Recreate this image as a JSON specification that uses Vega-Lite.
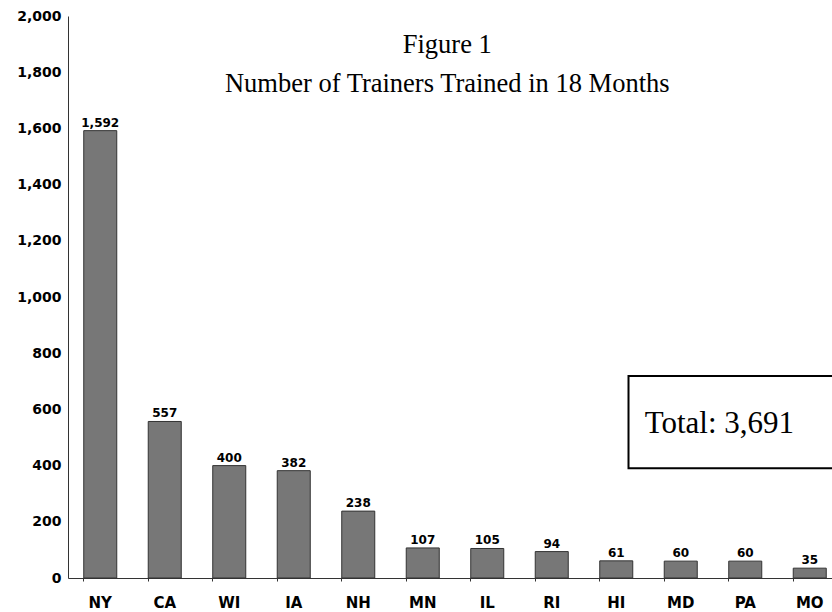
{
  "$schema": "https://vega.github.io/schema/vega-lite/v6.json",
  "autosize": {"type": "none"},
  "padding": {"left": 68, "top": 16, "right": 0, "bottom": 34},
  "width": 764,
  "height": 562,
  "background": "white",
  "config": {"view": {"stroke": null}},
  "data": {"values": [
    {"state": "NY", "trainers": 1592},
    {"state": "CA", "trainers": 557},
    {"state": "WI", "trainers": 400},
    {"state": "IA", "trainers": 382},
    {"state": "NH", "trainers": 238},
    {"state": "MN", "trainers": 107},
    {"state": "IL", "trainers": 105},
    {"state": "RI", "trainers": 94},
    {"state": "HI", "trainers": 61},
    {"state": "MD", "trainers": 60},
    {"state": "PA", "trainers": 60},
    {"state": "MO", "trainers": 35}
  ]},
  "layer": [
    {
      "encoding": {
        "x": {
          "field": "state", "type": "nominal", "sort": null,
          "scale": {"range": [0, 774], "paddingInner": 0.488, "paddingOuter": 0.244},
          "axis": {
            "title": null, "labelAngle": 0, "bandPosition": 0,
            "labelFont": "DejaVu Sans", "labelFontWeight": "bold", "labelFontSize": 15,
            "labelColor": "black", "labelPadding": 14,
            "domainColor": "#333333", "tickColor": "#333333", "tickSize": 3, "ticks": true
          }
        },
        "y": {
          "field": "trainers", "type": "quantitative",
          "scale": {"domain": [0, 2000]},
          "axis": {
            "title": null, "values": [0,200,400,600,800,1000,1200,1400,1600,1800,2000],
            "format": ",d", "grid": false, "ticks": false,
            "labelFont": "DejaVu Sans", "labelFontWeight": "bold", "labelFontSize": 14,
            "labelColor": "black", "labelPadding": 7, "domainColor": "#333333"
          }
        }
      },
      "layer": [
        {"mark": {"type": "bar", "fill": "#777777", "stroke": "#333333", "strokeWidth": 1}},
        {
          "mark": {"type": "text", "baseline": "alphabetic", "dy": -4, "font": "DejaVu Sans", "fontWeight": "bold", "fontSize": 12, "color": "black"},
          "encoding": {"text": {"field": "trainers", "type": "quantitative", "format": ",d"}}
        }
      ]
    },
    {
      "data": {"values": [{"label": "Total: 3,691", "title": ["Figure 1", "Number of Trainers Trained in 18 Months"]}]},
      "encoding": {
        "x": {"type": "quantitative", "scale": {"domain": [0, 12], "range": [0, 774]}, "axis": null}
      },
      "layer": [
        {
          "mark": {"type": "rect", "fill": "white", "stroke": "black", "strokeWidth": 2},
          "encoding": {
            "x": {"datum": 8.69, "type": "quantitative", "scale": {"domain": [0, 12], "range": [0, 774]}, "axis": null},
            "x2": {"datum": 12.6},
            "y": {"datum": 391, "type": "quantitative"},
            "y2": {"datum": 719}
          }
        },
        {
          "mark": {"type": "text", "align": "left", "baseline": "alphabetic", "font": "Liberation Serif", "fontSize": 31, "color": "black"},
          "encoding": {
            "x": {"datum": 8.94, "type": "quantitative", "scale": {"domain": [0, 12], "range": [0, 774]}, "axis": null},
            "y": {"datum": 516, "type": "quantitative"},
            "text": {"field": "label"}
          }
        },
        {
          "mark": {"type": "text", "align": "center", "baseline": "alphabetic", "font": "Liberation Serif", "fontSize": 26.5, "lineHeight": 39, "color": "black"},
          "encoding": {
            "x": {"datum": 5.88, "type": "quantitative", "scale": {"domain": [0, 12], "range": [0, 774]}, "axis": null},
            "y": {"datum": 1868, "type": "quantitative"},
            "text": {"field": "title"}
          }
        }
      ]
    }
  ],
  "resolve": {"scale": {"x": "independent"}, "axis": {"x": "independent"}}
}
